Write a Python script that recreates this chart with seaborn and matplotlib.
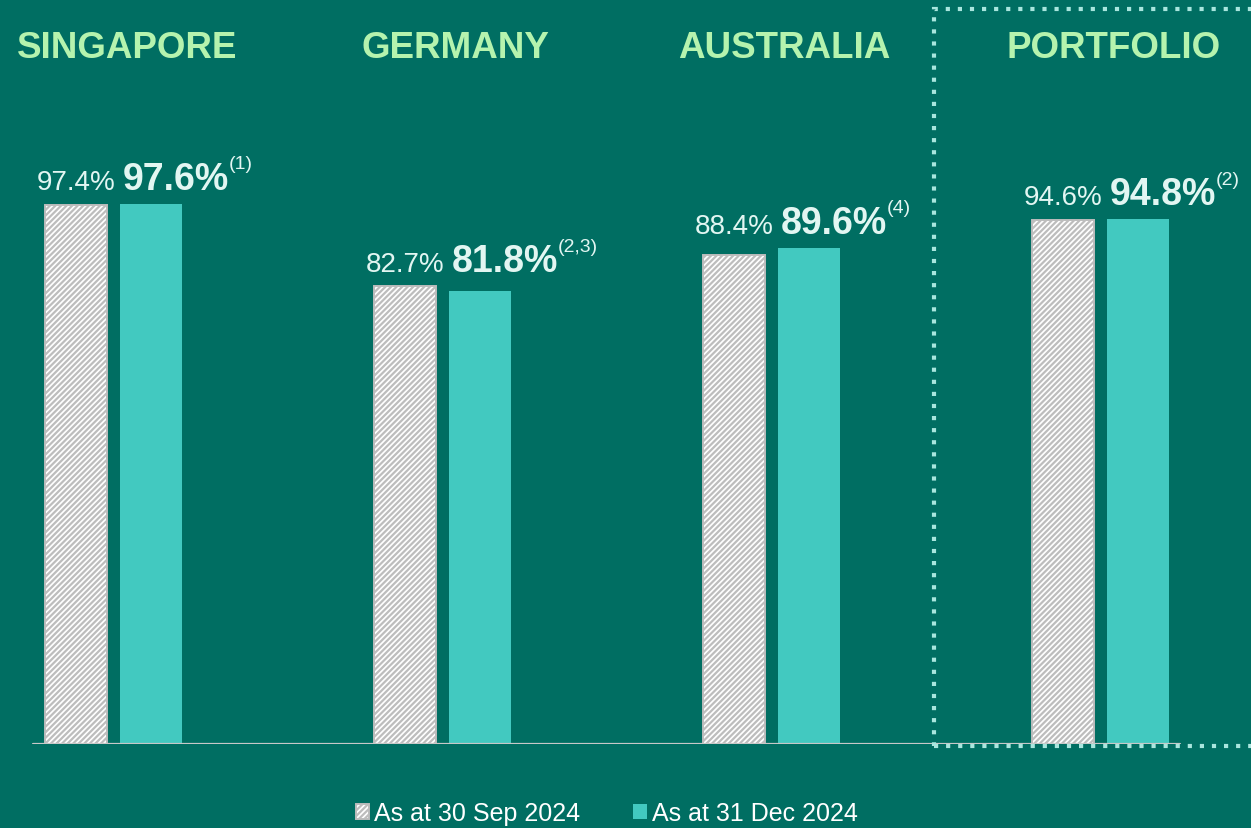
import matplotlib
matplotlib.use("Agg")
import matplotlib.pyplot as plt
from matplotlib.patches import Rectangle
import pandas as pd
import seaborn as sns

# chart values
regions = ["SINGAPORE", "GERMANY", "AUSTRALIA", "PORTFOLIO"]
sep_2024 = [97.4, 82.7, 88.4, 94.6]
dec_2024 = [97.6, 81.8, 89.6, 94.8]
notes = ["(1)", "(2,3)", "(4)", "(2)"]
series = ["As at 30 Sep 2024", "As at 31 Dec 2024"]

BG = "#006E62"
TEAL = "#42C9C0"
HATCH_GREY = "#BDBDBD"
TITLE_GREEN = "#B5F3AE"
LABEL = "#E2F6F2"

sns.set_style("white")
plt.rcParams["font.family"] = ["Liberation Sans", "DejaVu Sans"]
plt.rcParams["hatch.linewidth"] = 1.6

df = pd.DataFrame({
    "region": regions * 2,
    "value": sep_2024 + dec_2024,
    "period": [series[0]] * len(regions) + [series[1]] * len(regions),
})

fig = plt.figure(figsize=(12.51, 8.29), dpi=100, facecolor=BG)
ax = fig.add_axes([0, 84 / 829, 1, 1 - 84 / 829])
ax.set_facecolor(BG)

sns.barplot(data=df, x="region", y="value", hue="period", hue_order=series,
            palette=["white", TEAL], width=0.456, gap=0.174, legend=False,
            ax=ax, saturation=1)

# hatched style for the first period
for p in ax.containers[0].patches:
    p.set_hatch("//////")
    p.set_edgecolor(HATCH_GREY)
    p.set_linewidth(1.4)
for p in ax.containers[1].patches:
    p.set_edgecolor("none")

ax.set_xlim(-113.5 / 329, (1251 - 113.5) / 329)
ax.set_ylim(0, 745 / 5.534)
ax.axhline(0, xmin=33 / 1251, xmax=1180 / 1251, color="#C8C8C8", lw=1.6, zorder=5)
for s in ax.spines.values():
    s.set_visible(False)
ax.set_xticks([])
ax.set_yticks([])
ax.set_xlabel("")
ax.set_ylabel("")

# region titles
for i, name in enumerate(regions):
    ax.text(i + 0.04, 125.8, name, ha="center", va="center",
            fontsize=26.5, fontweight="bold", color=TITLE_GREEN)

# value labels
for i, (pa, pb) in enumerate(zip(ax.containers[0].patches, ax.containers[1].patches)):
    base = max(pa.get_height(), pb.get_height())
    ax.annotate(f"{sep_2024[i]}%", xy=(pa.get_x() + pa.get_width() / 2, base),
                xytext=(0, 11), textcoords="offset points",
                ha="center", va="baseline", fontsize=20, color=LABEL)
    bold = ax.annotate(f"{dec_2024[i]}%", xy=(pb.get_x(), base),
                       xytext=(2, 11), textcoords="offset points",
                       ha="left", va="baseline", fontsize=27,
                       fontweight="bold", color=LABEL)
    ax.annotate(notes[i], xy=(1, 1), xycoords=bold, xytext=(-0.5, 4),
                textcoords="offset points", ha="left", va="top",
                fontsize=14, color=LABEL)

# dotted frame around the portfolio
fig.patches.append(Rectangle((934 / 1251, 82 / 829), 0.3, 737 / 829,
                             transform=fig.transFigure, fill=False,
                             edgecolor="#A9E6DE", lw=3, linestyle=(0, (1, 1.9))))

fig.legend(ax.containers, series, loc="lower center", bbox_to_anchor=(0.485, -0.024),
           ncol=2, frameon=False, fontsize=18, labelcolor="white",
           handlelength=0.55, handleheight=0.55, handletextpad=0.2,
           columnspacing=2.1)

fig.savefig("out.png", dpi=100, facecolor=BG)
